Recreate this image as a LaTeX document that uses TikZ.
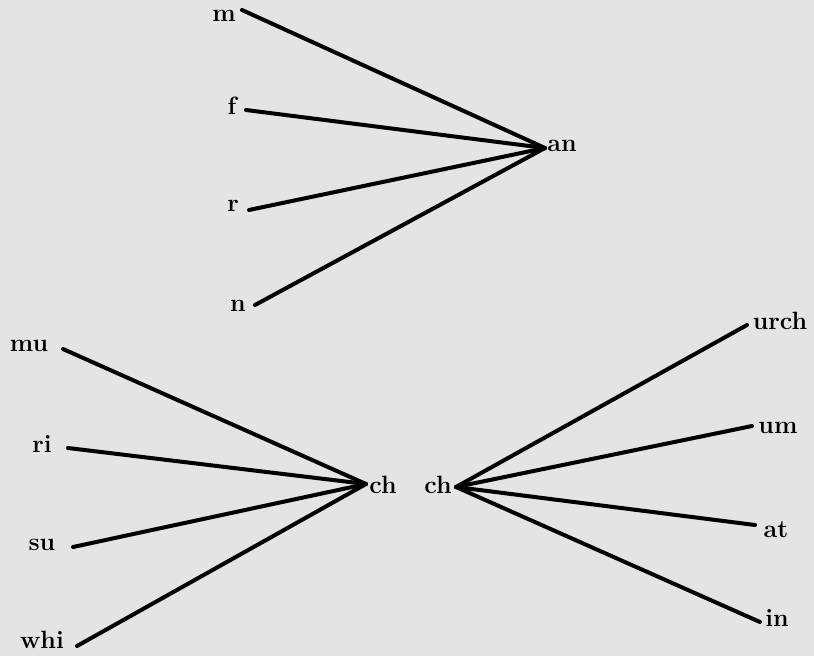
\documentclass[tikz,border=0pt]{standalone}
\usepackage{tikz}
\definecolor{paper}{RGB}{228,228,228}
\tikzset{
  word/.style={font=\fontsize{25}{28}\selectfont\bfseries,inner sep=0pt},
  spoke/.style={draw=black,line width=4pt,line cap=round}
}
\begin{document}
\begin{tikzpicture}[x=1pt,y=-1pt]
\useasboundingbox (0,0) rectangle (814,656);
\path[fill=paper] (0,0) rectangle (814,656);
% hub points:
\coordinate (an) at (545,148);
\coordinate (chL) at (366,484);
\coordinate (chR) at (456,487);
% line ends:
\coordinate (em) at (242,10);
\coordinate (ef) at (246,110);
\coordinate (er) at (249,210);
\coordinate (en) at (255,305);
\coordinate (emu) at (63,349);
\coordinate (eri) at (68,448);
\coordinate (esu) at (73,547);
\coordinate (ewhi) at (77,646);
\coordinate (eurch) at (747,325);
\coordinate (eum) at (752,426);
\coordinate (eat) at (755,525);
\coordinate (ein) at (760,622);
% words:
\node[word] (wm) at (224,16) {m};
\node[word] (wf) at (232,106) {f};
\node[word] (wr) at (233,206) {r};
\node[word] (wn) at (238,306) {n};
\node[word] (wan) at (562,146) {an};
\node[word] (wmu) at (29,346) {mu};
\node[word] (wri) at (42,444) {ri};
\node[word] (wsu) at (42,545) {su};
\node[word] (wwhi) at (42,640) {whi};
\node[word] (wchL) at (383,485) {ch};
\node[word] (wchR) at (438,485) {ch};
\node[word] (wurch) at (780,321) {urch};
\node[word] (wum) at (778,428) {um};
\node[word] (wat) at (776,530) {at};
\node[word] (win) at (777,618) {in};
% spokes:
\foreach \e in {em,ef,er,en}
  \path[spoke] (\e) -- (an);
\foreach \e in {emu,eri,esu,ewhi}
  \path[spoke] (\e) -- (chL);
\foreach \e in {eurch,eum,eat,ein}
  \path[spoke] (chR) -- (\e);
\end{tikzpicture}
\end{document}
